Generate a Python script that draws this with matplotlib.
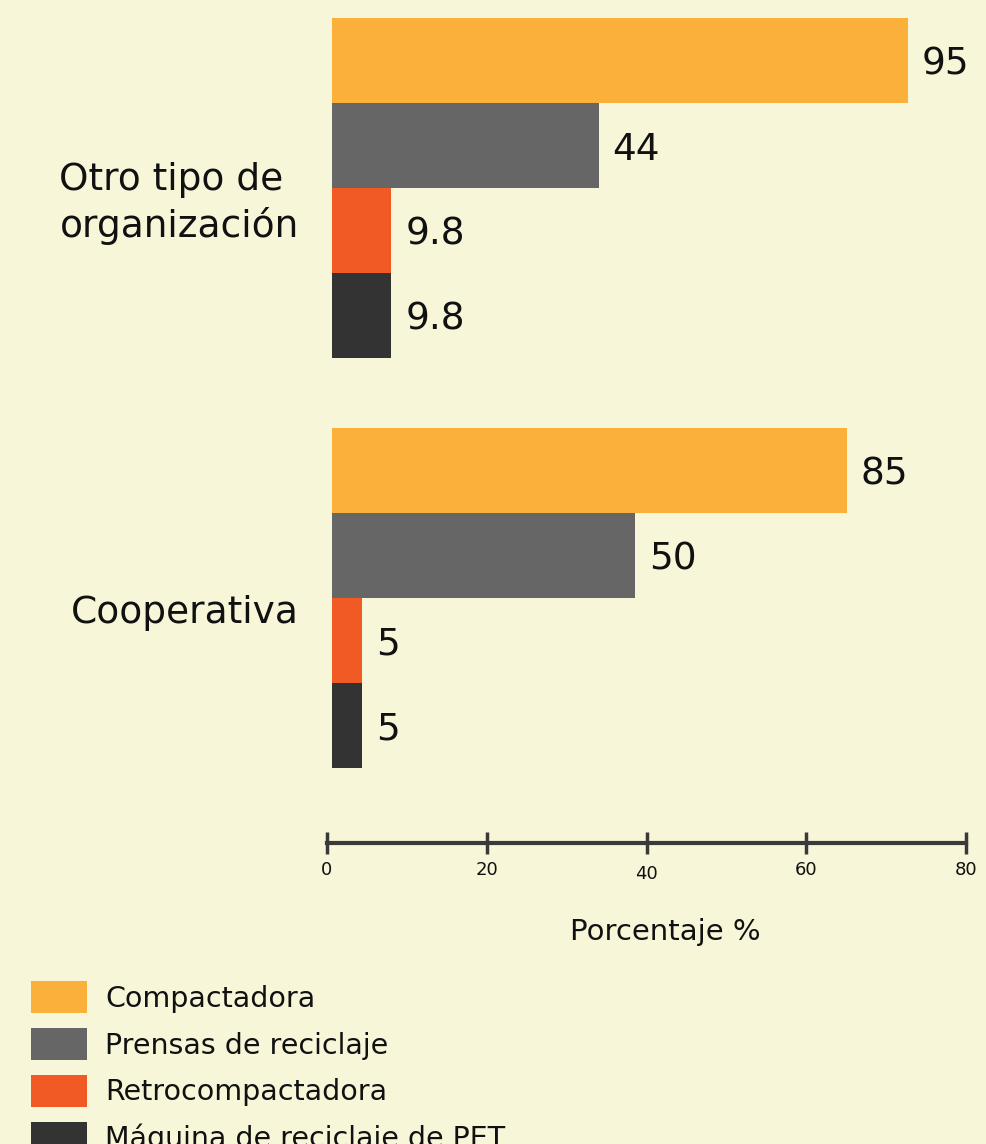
import matplotlib.pyplot as plt
from matplotlib.patches import Patch
from matplotlib.transforms import ScaledTranslation

plt.rcParams["font.family"] = ["DejaVu Sans"]

# ── Data ──────────────────────────────────────────────────────────────────────
GROUPS = ["Otro tipo de\norganización", "Cooperativa"]
SERIES = ["Compactadora", "Prensas de reciclaje", "Retrocompactadora",
          "Máquina de reciclaje de PET"]
VALUES = {
    "Otro tipo de\norganización": [95, 44, 9.8, 9.8],
    "Cooperativa": [85, 50, 5, 5],
}
LABELS = {
    "Otro tipo de\norganización": ["95", "44", "9.8", "9.8"],
    "Cooperativa": ["85", "50", "5", "5"],
}
AXIS_TICKS = [0, 20, 40, 60, 80]

COLORS = ["#FBB03B", "#666666", "#F15A24", "#333333"]
BG = "#F7F6D9"
W, H = 987, 1144

fig = plt.figure(figsize=(W / 100, H / 100), dpi=100, facecolor=BG)

# ── Bars ──────────────────────────────────────────────────────────────────────
GROUP_STEP = 4.82
ax = fig.add_axes([332 / W, 1 - 768 / H, (966 - 332) / W, (768 - 18) / H])
ax.set_facecolor("none")
for gi, g in enumerate(GROUPS):
    base = gi * GROUP_STEP
    for si, (v, lab) in enumerate(zip(VALUES[g], LABELS[g])):
        y = base + si
        ax.annotate(lab, (v, y), xytext=(10, -3), textcoords="offset points",
                    ha="left", va="center", fontsize=27, color="#111111")
        ax.barh(y, v, height=1.0, color=COLORS[si], linewidth=0)
    ax.annotate(g, (0, base + 1.5), xytext=(-24, -11), textcoords="offset points",
                ha="right", va="center", multialignment="left",
                fontsize=27, color="#111111", linespacing=1.3,
                annotation_clip=False)
ax.set_xlim(0, 634 / 6.06)
ax.set_ylim(GROUP_STEP + 3.5, -0.5)
ax.axis("off")

# ── Bottom axis (own 0–80 scale) ──────────────────────────────────────────────
ax2 = fig.add_axes([327 / W, 1 - 843 / H, 639 / W, 0.02])
ax2.set_facecolor("none")
for s in ["top", "left", "right"]:
    ax2.spines[s].set_visible(False)
ax2.spines["bottom"].set_linewidth(3)
ax2.spines["bottom"].set_color("#3A3A3A")
ax2.set_xlim(0, 80)
ax2.set_xticks(AXIS_TICKS)
ax2.set_xticklabels([str(t) for t in AXIS_TICKS])
ax2.set_yticks([])
ax2.tick_params(axis="x", direction="inout", length=16, width=2.5,
                color="#3A3A3A", labelsize=13, pad=5, labelcolor="#111111")
lbl40 = ax2.get_xticklabels()[2]
lbl40.set_transform(lbl40.get_transform() + ScaledTranslation(0, -4 / 100, fig.dpi_scale_trans))

fig.text(665 / W, 1 - 932 / H, "Porcentaje %", ha="center", va="center",
         fontsize=21, color="#111111")

# ── Legend (last row runs off the bottom edge, as in the original) ───────────
handles = [Patch(facecolor=c, edgecolor="none", label=s) for c, s in zip(COLORS, SERIES)]
fig.legend(handles=handles, loc="upper left", bbox_to_anchor=(31 / W, 1 - 981 / H),
           frameon=False, fontsize=20.5, handlelength=1.95, handleheight=1.36,
           handletextpad=0.66, labelspacing=0.52, borderpad=0, borderaxespad=0,
           labelcolor="#111111")

fig.savefig("out.png", dpi=100, facecolor=BG)
